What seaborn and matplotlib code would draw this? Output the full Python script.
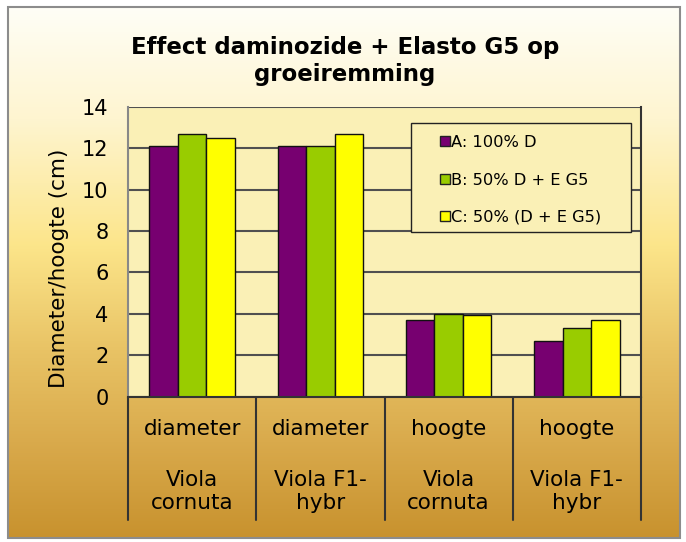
import numpy as np
import pandas as pd
import matplotlib
matplotlib.use('Agg')
import matplotlib.pyplot as plt
import seaborn as sns
import matplotlib.transforms as mtransforms
from matplotlib.colors import LinearSegmentedColormap
from matplotlib.lines import Line2D
from matplotlib.patches import Rectangle

# gegevens uit de grafiek
metingen = ['diameter', 'diameter', 'hoogte', 'hoogte']
soorten = ['Viola\ncornuta', 'Viola F1-\nhybr', 'Viola\ncornuta', 'Viola F1-\nhybr']
behandelingen = ['A: 100% D', 'B: 50% D + E G5', 'C: 50% (D + E G5)']
waarden_a = [12.1, 12.1, 3.7, 2.7]
waarden_b = [12.7, 12.1, 4.0, 3.3]
waarden_c = [12.5, 12.7, 3.95, 3.7]
kleuren = ['#770070', '#99CC00', '#FFFF00']
y_ticks = [0, 2, 4, 6, 8, 10, 12, 14]

groepen = [f'{m} {s}' for m, s in zip(metingen, soorten)]
df = pd.DataFrame({
    'groep': groepen * 3,
    'behandeling': np.repeat(behandelingen, len(groepen)),
    'waarde': waarden_a + waarden_b + waarden_c,
})

sns.set_style('white')
plt.rcParams['font.family'] = ['DejaVu Sans']
plt.rcParams['text.color'] = 'black'
plt.rcParams['axes.labelcolor'] = 'black'
plt.rcParams['ytick.labelcolor'] = 'black'

fig = plt.figure(figsize=(6.86, 5.42), dpi=100)

# achtergrond met verloop en grijze rand
bg = fig.add_axes([0, 0, 1, 1], zorder=-10)
bg.set_xlim(0, 686)
bg.set_ylim(542, 0)
bg.axis('off')
verloop = LinearSegmentedColormap.from_list('goud', [
    (0.0, '#FFFEF6'), (0.21, '#FEF5D0'), (0.45, '#FCE58A'),
    (0.64, '#E9C466'), (0.82, '#D9AA4C'), (1.0, '#C8922E')])
grad = np.linspace(0, 1, 256).reshape(-1, 1)
bg.imshow(grad, extent=(8, 680, 538, 7), aspect='auto', cmap=verloop)
bg.add_patch(Rectangle((8, 7), 672, 531, fill=False, ec='#8c8c8c', lw=1.5))

ax = fig.add_axes([0.1866, 0.2681, 0.7478, 0.535])
ax.set_facecolor('#FAF0B6')
sns.barplot(data=df, x='groep', y='waarde', hue='behandeling', order=groepen,
            hue_order=behandelingen, palette=kleuren, width=0.668, gap=0,
            saturation=1, edgecolor='#111111', linewidth=1, legend=False, ax=ax)

ax.set_xlim(-0.5, 3.5)
ax.set_ylim(0, 14)
ax.set_yticks(y_ticks)
ax.yaxis.grid(True, color='#505050', lw=1.5)
ax.set_axisbelow(True)
ax.set_xlabel('')
ax.set_xticks([])
ax.set_ylabel('Diameter/hoogte (cm)', fontsize=15.5)
ax.yaxis.set_label_coords(-0.115, 0.444)
ax.tick_params(axis='y', length=7, width=1.2, color='#888888', pad=7, labelsize=15)
ax.spines['top'].set_visible(False)
ax.spines['left'].set_color('#888888')
ax.spines['left'].set_linewidth(1.5)
for s in ['bottom', 'right']:
    ax.spines[s].set_color('#333333')
    ax.spines[s].set_linewidth(1.5)

# categorie-labels in twee niveaus
trans = mtransforms.blended_transform_factory(ax.transData, ax.transAxes)
for i in range(len(groepen)):
    ax.text(i, -0.111, metingen[i], transform=trans, ha='center', va='center', fontsize=15.5)
    ax.text(i, -0.327, soorten[i], transform=trans, ha='center', va='center',
            fontsize=15.5, linespacing=1.2)
for x in np.arange(-0.5, 4, 1):
    ax.plot([x, x], [0, -0.425], transform=trans, clip_on=False, color='#333333', lw=1.5)

# legenda
ax.add_patch(Rectangle((0.5517, 0.569), 0.4288, 0.3758, transform=ax.transAxes,
                       facecolor='#FAF0B6', edgecolor='#222222', lw=1, zorder=4))
handles = [Line2D([0], [0], marker='s', ls='none', markersize=7, markerfacecolor=c,
                  markeredgecolor='#222222', markeredgewidth=1) for c in kleuren]
leg = ax.legend(handles, behandelingen, loc='upper left', bbox_to_anchor=(0.608, 0.902),
                frameon=False, borderpad=0, borderaxespad=0, handlelength=0.6,
                handletextpad=0.1, labelspacing=1.38, fontsize=11.7)
leg.set_zorder(6)

fig.text(0.503, (542 - 61) / 542, 'Effect daminozide + Elasto G5 op\ngroeiremming',
         ha='center', va='center', fontsize=16.5, weight='bold', linespacing=1.25)

fig.savefig('out.png', dpi=100)
